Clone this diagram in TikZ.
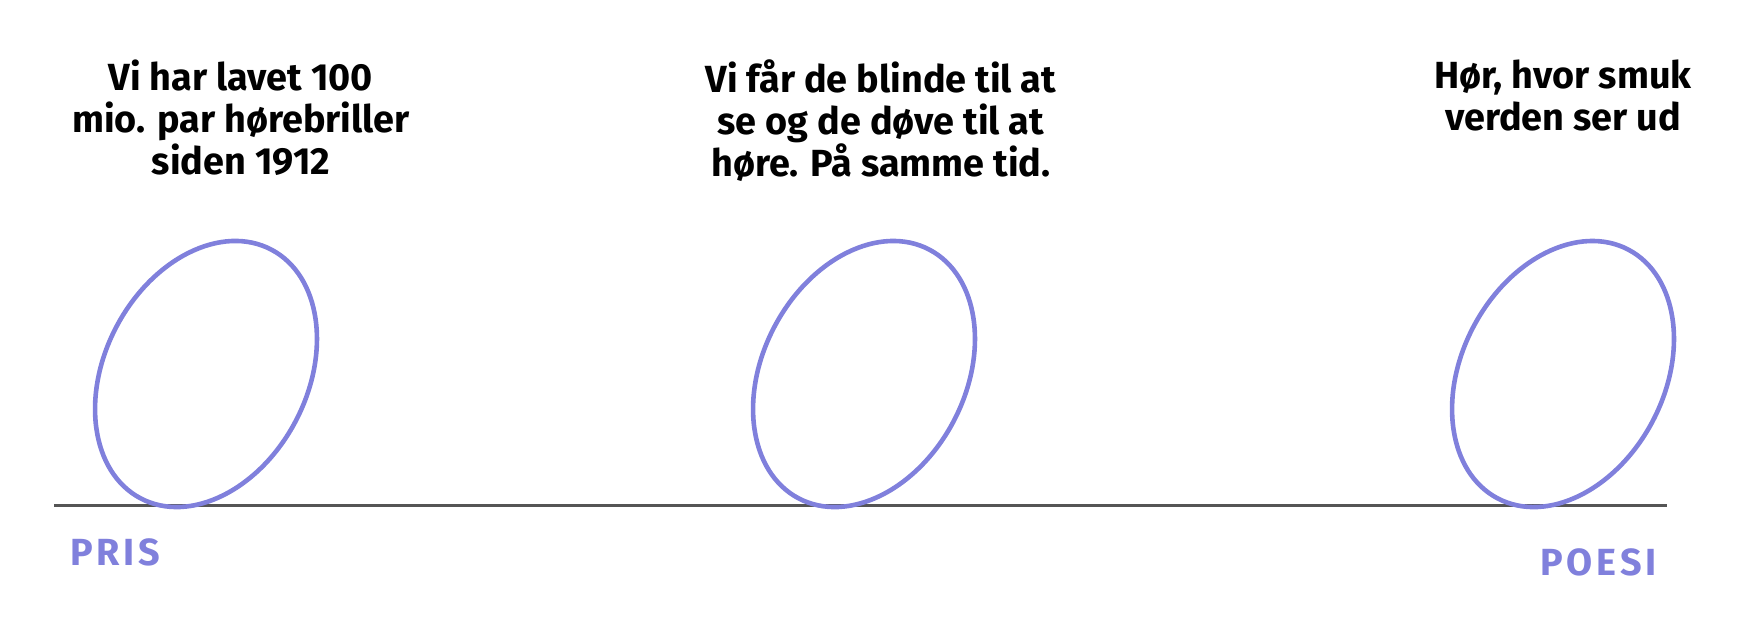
\documentclass[tikz,border=0pt]{standalone}
\usepackage{fontspec}
\setmainfont{Fira Sans}
\usepackage{tikz}
\usetikzlibrary{positioning}
\definecolor{lilac}{RGB}{128,128,220}
\definecolor{axisgray}{RGB}{85,85,85}
\tikzset{
  claim/.style={anchor=north, inner sep=0pt, align=center, font=\bfseries\fontsize{18.9}{21}\selectfont},
  pole/.style={inner sep=0pt, text=lilac, font=\bfseries\fontsize{18.9}{21}\selectfont\addfontfeature{LetterSpace=10}},
  egg/.style={draw=lilac, line width=2.3pt},
  axis/.style={draw=axisgray, line width=1.5pt}
}
\begin{document}
\begin{tikzpicture}[x=0.5pt,y=0.5pt]
  \useasboundingbox (0,0) rectangle (1743,631);
   \coordinate (axisl) at (54,125);
   \coordinate (axisr) at (1667,125);
   \draw[axis] (axisl) -- (axisr);
   \coordinate (egga) at (206,257);
   \coordinate (eggb) at (864,257);
   \coordinate (eggc) at (1563,257);
   \draw[egg, rotate around={62.3:(egga)}] (egga) ellipse [x radius=70.25pt, y radius=50.65pt];
   \draw[egg, rotate around={62.3:(eggb)}] (eggb) ellipse [x radius=70.25pt, y radius=50.65pt];
   \draw[egg, rotate around={62.3:(eggc)}] (eggc) ellipse [x radius=70.25pt, y radius=50.65pt];
   \node[claim] (claima) at (241,572) {Vi har lavet 100\\mio. par hørebriller\\siden 1912};
   \node[claim] (claimb) at (881,572) {Vi får de blinde til at\\se og de døve til at\\høre. På samme tid.};
   \node[claim] (claimc) at (1563,572) {Hør, hvor smuk\\verden ser ud};
   \node[pole, anchor=base west] (pris) at (70,65) {PRIS};
   \node[pole, anchor=base west] (poesi) at (1540,55) {POESI};
  \end{tikzpicture}
\end{document}
